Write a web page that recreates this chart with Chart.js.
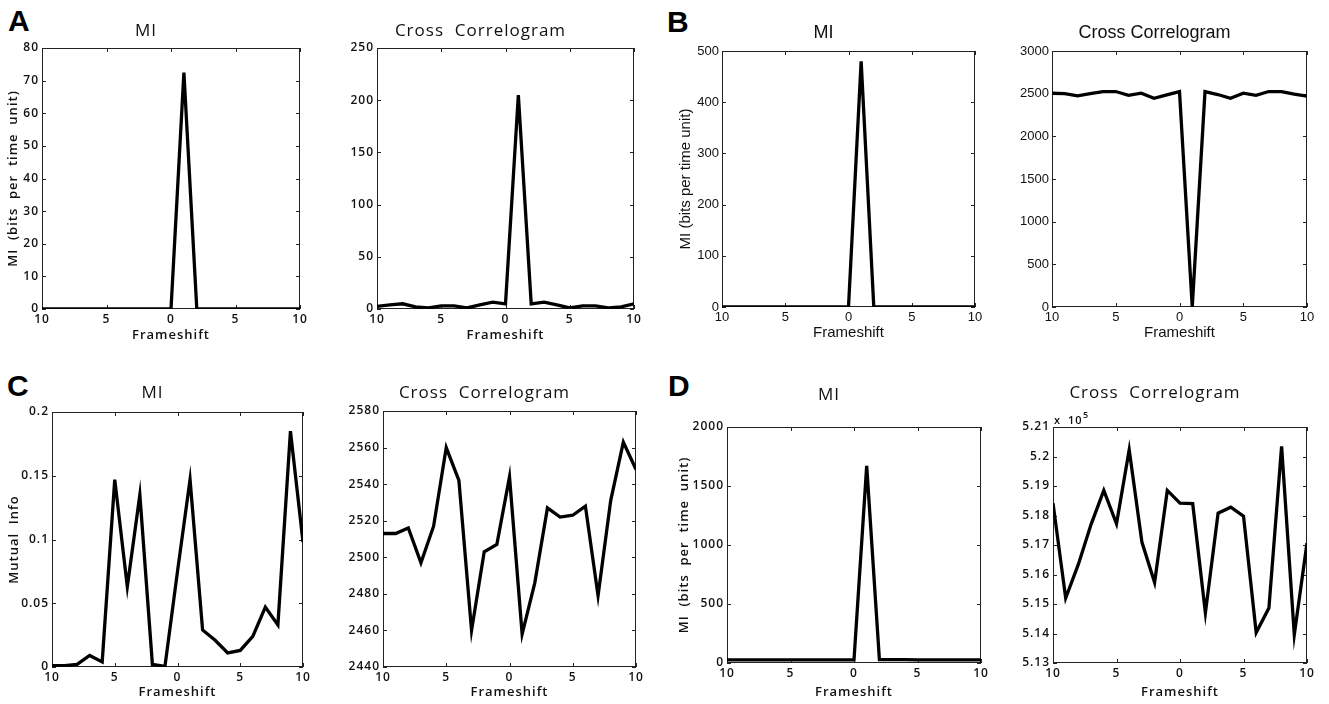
<!DOCTYPE html>
<html>
<head>
<meta charset="utf-8">
<script src="https://cdn.jsdelivr.net/npm/chart.js@4.4.0/dist/chart.umd.min.js"></script>
<style>
  body { margin: 0; background: #fff; width: 1329px; height: 704px; position: relative; overflow: hidden; }
  canvas { position: absolute; }
  .tag { position: absolute; font: bold 30px 'Liberation Sans', Arial, sans-serif; line-height: 30px; color: #000; }
</style>
</head>
<body>
<div class="tag" style="left:8px;top:6px">A</div>
<div class="tag" style="left:667px;top:7px">B</div>
<div class="tag" style="left:7px;top:371px">C</div>
<div class="tag" style="left:668px;top:371px">D</div>

<canvas id="a1"></canvas>
<canvas id="a2"></canvas>
<canvas id="b1"></canvas>
<canvas id="b2"></canvas>
<canvas id="c1"></canvas>
<canvas id="c2"></canvas>
<canvas id="d1"></canvas>
<canvas id="d2"></canvas>

<script>
// frame shifts shared by every panel
const frameshift = [-10, -9, -8, -7, -6, -5, -4, -3, -2, -1, 0, 1, 2, 3, 4, 5, 6, 7, 8, 9, 10];
// minus signs are lost in the printed figure
const xTickLabels = ['10', '5', '0', '5', '10'];

// A
const miA = [0, 0, 0, 0, 0, 0, 0, 0, 0, 0, 0, 72.5, 0, 0, 0, 0, 0, 0, 0, 0, 0];
const ccA = [2.5, 4, 5, 2, 1, 3, 3, 1, 4, 6.5, 5, 205, 5, 6.5, 4, 1, 3, 3, 1, 2, 5];
// B
const miB = [0, 0, 0, 0, 0, 0, 0, 0, 0, 0, 0, 480, 0, 0, 0, 0, 0, 0, 0, 0, 0];
const ccB = [2505, 2500, 2475, 2500, 2525, 2525, 2480, 2505, 2445, 2485, 2525, 0,
             2525, 2490, 2445, 2505, 2480, 2525, 2525, 2495, 2470];
// C
const miC = [0.001, 0.001, 0.002, 0.009, 0.004, 0.147, 0.063, 0.135, 0.002, 0.0005, 0.075,
             0.147, 0.029, 0.021, 0.011, 0.013, 0.024, 0.047, 0.033, 0.185, 0.098];
const ccC = [2513, 2513, 2516, 2497, 2517, 2560, 2542, 2460, 2503, 2507, 2544,
             2458, 2486, 2527, 2522, 2523, 2528, 2479, 2531, 2563, 2548];
// D
const miD = [27, 27, 27, 27, 27, 26, 26, 26, 26, 26, 26, 1670, 28, 28, 28, 27, 27, 27, 26, 26, 26];
const ccD = [518420, 515200, 516350, 517700, 518850, 517720, 520230, 517100, 515730, 518850, 518420,
             518400, 514700, 518080, 518280, 517980, 514030, 514860, 520340, 513960, 517070];

const OPTIMA = "'Open Sans', 'DejaVu Sans', sans-serif";
const ARIAL = "'Liberation Sans', Arial, sans-serif";

const fontA = { family: OPTIMA, tick: 12, label: 13, title: 17, tickW: '600', labelW: '600', spacing: '1px', xPad: 3 };
const fontB = { family: ARIAL, tick: 13, label: 15, title: 18, tickW: 'normal', labelW: 'normal', spacing: '0px', xPad: 3 };

// box + inward ticks like matlab axes
const frame = {
  id: 'frame',
  beforeUpdate(chart, args, opts) { chart.ctx.letterSpacing = opts.spacing || '0px'; },
  beforeDraw(chart, args, opts) { chart.ctx.letterSpacing = opts.spacing || '0px'; },
  beforeDatasetsDraw(chart) {
    const { ctx, chartArea: a, scales: { x, y } } = chart;
    ctx.save();
    ctx.strokeStyle = '#222';
    ctx.lineWidth = 1;
    ctx.strokeRect(a.left + 0.5, a.top + 0.5, a.width - 1, a.height - 1);
    ctx.beginPath();
    x.ticks.forEach(t => {
      const px = Math.round(x.getPixelForValue(t.value)) + 0.5;
      ctx.moveTo(px, a.bottom); ctx.lineTo(px, a.bottom - 4);
      ctx.moveTo(px, a.top); ctx.lineTo(px, a.top + 4);
    });
    y.ticks.forEach(t => {
      const py = Math.round(y.getPixelForValue(t.value)) + 0.5;
      ctx.moveTo(a.left, py); ctx.lineTo(a.left + 4, py);
      ctx.moveTo(a.right, py); ctx.lineTo(a.right - 4, py);
    });
    ctx.stroke();
    ctx.restore();
  },
  afterDraw(chart, args, opts) {
    if (!opts.exp) return;
    const { ctx, chartArea: a } = chart;
    ctx.save();
    ctx.fillStyle = '#111';
    ctx.textBaseline = 'alphabetic';
    ctx.font = '600 11px ' + OPTIMA;
    ctx.fillText('x', a.left + 1, a.top - 3);
    ctx.fillText('10', a.left + 15, a.top - 3);
    ctx.font = '600 9px ' + OPTIMA;
    ctx.fillText('5', a.left + 30, a.top - 9);
    ctx.restore();
  }
};

function panel(id, p) {
  const M = 50, TOP = 50, BOT = 45;
  const [l, t, r, b] = p.rect;
  const f = p.font;
  const cv = document.getElementById(id);
  cv.width = r - l + 2 * M;
  cv.height = b - t + TOP + BOT;
  cv.style.left = (l - M) + 'px';
  cv.style.top = (t - TOP) + 'px';

  const titleLH = f.title * 1.2;
  const tTop = p.titleY - (t - TOP) - titleLH / 2;
  const labLH = f.label * 1.2;
  const tickFont = { family: f.family, size: f.tick, weight: f.tickW };
  const labFont = { family: f.family, size: f.label, weight: f.labelW, lineHeight: 1.2 };

  new Chart(cv, {
    type: 'line',
    data: {
      labels: frameshift,
      datasets: [{
        data: p.values,
        borderColor: '#000',
        borderWidth: 3.3,
        pointRadius: 0,
        tension: 0,
        fill: false
      }]
    },
    options: {
      responsive: false,
      animation: false,
      devicePixelRatio: 1,
      layout: { padding: { left: 0, right: M, top: 0, bottom: 0 } },
      plugins: {
        legend: { display: false },
        tooltip: { enabled: false },
        title: {
          display: true,
          text: p.title,
          color: '#111',
          font: { family: f.family, size: f.title, weight: 'normal', lineHeight: 1.2 },
          padding: { top: tTop, bottom: TOP - titleLH - tTop }
        },
        frame: { spacing: f.spacing, exp: !!p.exp }
      },
      scales: {
        x: {
          type: 'linear',
          min: -10,
          max: 10,
          grid: { display: false, drawTicks: false },
          border: { display: false },
          ticks: {
            stepSize: 5,
            autoSkip: false,
            maxRotation: 0,
            padding: f.xPad,
            color: '#111',
            font: tickFont,
            callback: (v, i) => xTickLabels[i]
          },
          title: {
            display: true,
            text: 'Frameshift',
            color: '#111',
            font: labFont,
            padding: { top: 0, bottom: BOT - p.xlabDy - labLH / 2 }
          },
          afterFit: s => { s.height = BOT; }
        },
        y: {
          min: p.yMin,
          max: p.yMax,
          grid: { display: false, drawTicks: false },
          border: { display: false },
          ticks: {
            stepSize: p.yStep,
            padding: 3,
            color: '#111',
            font: tickFont,
            callback: p.yFmt || (v => v)
          },
          title: {
            display: !!p.ylabel,
            text: p.ylabel || '',
            color: '#111',
            font: labFont,
            padding: { top: (p.ylabX || 0) - (l - M) - labLH / 2, bottom: 0 }
          },
          afterFit: s => { s.width = M; }
        }
      }
    },
    plugins: [frame]
  });
}

const round2 = v => String(parseFloat(v.toFixed(2)));

panel('a1', { rect: [42, 48, 300, 309], font: fontA, title: 'MI', titleY: 31, xlabDy: 26,
  ylabel: 'MI  (bits  per  time  unit)', ylabX: 13, yMin: 0, yMax: 80, yStep: 10, values: miA });
panel('a2', { rect: [377, 48, 634, 309], font: fontA, title: 'Cross  Correlogram', titleY: 31, xlabDy: 26,
  yMin: 0, yMax: 250, yStep: 50, values: ccA });
panel('b1', { rect: [722, 51, 975, 307], font: fontB, title: 'MI', titleY: 33, xlabDy: 26,
  ylabel: 'MI (bits per time unit)', ylabX: 686, yMin: 0, yMax: 500, yStep: 100, values: miB });
panel('b2', { rect: [1052, 51, 1307, 307], font: fontB, title: 'Cross Correlogram', titleY: 33, xlabDy: 26,
  yMin: 0, yMax: 3000, yStep: 500, values: ccB });
panel('c1', { rect: [52, 412, 303, 667], font: fontA, title: 'MI', titleY: 393, xlabDy: 25,
  ylabel: 'Mutual  Info', ylabX: 14, yMin: 0, yMax: 0.2, yStep: 0.05, yFmt: round2, values: miC });
panel('c2', { rect: [383, 411, 636, 667], font: fontA, title: 'Cross  Correlogram', titleY: 393, xlabDy: 25,
  yMin: 2440, yMax: 2580, yStep: 20, values: ccC });
panel('d1', { rect: [727, 427, 981, 663], font: fontA, title: 'MI', titleY: 395, xlabDy: 29,
  ylabel: 'MI  (bits  per  time  unit)', ylabX: 684, yMin: 0, yMax: 2000, yStep: 500, values: miD });
panel('d2', { rect: [1053, 427, 1307, 663], font: fontA, title: 'Cross  Correlogram', titleY: 393, xlabDy: 29,
  yMin: 513000, yMax: 521000, yStep: 1000, yFmt: v => round2(v / 1e5), exp: true, values: ccD });
</script>
</body>
</html>
